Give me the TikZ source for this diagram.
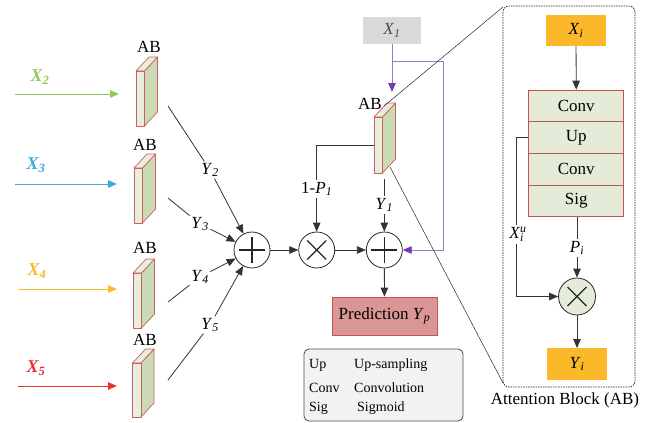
\documentclass[tikz,border=0pt]{standalone}
\usepackage{fontspec}
\setmainfont{Liberation Serif}
\usetikzlibrary{arrows.meta}
\definecolor{cgreen}{RGB}{146,200,90}
\definecolor{ccyan}{RGB}{60,170,215}
\definecolor{corange}{RGB}{250,185,40}
\definecolor{cred}{RGB}{235,50,50}
\definecolor{blkborder}{RGB}{205,95,95}
\definecolor{blkpale}{RGB}{232,238,222}
\definecolor{blkgreen}{RGB}{202,218,180}
\definecolor{predfill}{RGB}{217,150,148}
\definecolor{predline}{RGB}{205,80,80}
\definecolor{gold}{RGB}{251,184,41}
\definecolor{xgray}{RGB}{217,217,217}
\definecolor{purp}{RGB}{150,122,205}
\definecolor{purpdark}{RGB}{112,60,175}
\definecolor{stackfill}{RGB}{228,235,216}
\definecolor{legfill}{RGB}{242,242,242}
\tikzset{
  conn/.style={draw=black!80,line width=0.8pt},
  arr/.style={conn,-{Triangle[length=9pt,width=7.5pt]}},
  inarr/.style={line width=0.9pt,-{Triangle[length=9pt,width=7.5pt]}},
  zoomline/.style={draw=black!85,line width=0.5pt},
  lbl/.style={inner sep=1.5pt},
  blkfront/.style={draw=blkborder,fill=blkpale,line width=0.7pt,line join=round},
  blkside/.style={draw=blkborder,fill=blkgreen,line width=0.7pt,line join=round},
  plusnode/.style={circle,draw=black!85,line width=0.8pt,minimum size=36pt,inner sep=0pt,fill=white,
    path picture={\draw[line width=1.3pt]
      ([xshift=-13pt]path picture bounding box.center) -- ([xshift=13pt]path picture bounding box.center)
      ([yshift=-13pt]path picture bounding box.center) -- ([yshift=13pt]path picture bounding box.center);}},
  timesnode/.style={circle,draw=black!85,line width=0.8pt,minimum size=36pt,inner sep=0pt,fill=white,
    path picture={\draw[line width=1.3pt]
      ([shift={(-9.5pt,-9.5pt)}]path picture bounding box.center) -- ([shift={(9.5pt,9.5pt)}]path picture bounding box.center)
      ([shift={(-9.5pt,9.5pt)}]path picture bounding box.center) -- ([shift={(9.5pt,-9.5pt)}]path picture bounding box.center);}},
  stackbox/.style={draw=predline,fill=stackfill,line width=0.7pt,minimum width=95pt,minimum height=31.7pt,inner sep=0pt},
  goldbox/.style={fill=gold,minimum width=60pt,minimum height=31.5pt,inner sep=0pt},
}
\newcommand{\ABblk}[3]{%
  \begin{scope}[shift={(#1,#2)}]
    \filldraw[blkside] (8.5,0) -- (21.5,-14) -- (21.5,{#3-14}) -- (8.5,#3) -- cycle;
    \filldraw[blkfront] (0,0) -- (13,-14) -- (21.5,-14) -- (8.5,0) -- cycle;
    \filldraw[blkfront] (0,0) rectangle (8.5,#3);
  \end{scope}}
\newcommand{\itsub}[2]{\textit{#1}\textsubscript{\textit{#2}}}
\begin{document}
\begin{tikzpicture}[x=1pt,y=-1pt,font=\fontsize{17}{20}\selectfont]
\useasboundingbox (0,0) rectangle (667,423);

% ---------- left input arrows ----------
\coordinate (s2) at (15,94);  \coordinate (e2) at (119,94);
\coordinate (s3) at (15,184); \coordinate (e3) at (117,184);
\coordinate (s4) at (18,289); \coordinate (e4) at (117,289);
\coordinate (s5) at (18,386); \coordinate (e5) at (117,386);
\draw[inarr,cgreen] (s2) -- (e2);
\draw[inarr,ccyan] (s3) -- (e3);
\draw[inarr,corange] (s4) -- (e4);
\draw[inarr,cred] (s5) -- (e5);
\node[text=cgreen,font=\fontsize{18}{20}\selectfont\bfseries\itshape] (lx2) at (40,77) {X\textsubscript{2}};
\node[text=ccyan,font=\fontsize{18}{20}\selectfont\bfseries\itshape] (lx3) at (36,165) {X\textsubscript{3}};
\node[text=corange,font=\fontsize{18}{20}\selectfont\bfseries\itshape] (lx4) at (37,271) {X\textsubscript{4}};
\node[text=cred,font=\fontsize{18}{20}\selectfont\bfseries\itshape] (lx5) at (36,368) {X\textsubscript{5}};

% ---------- attention blocks ----------
\ABblk{136}{71}{55}
\ABblk{134}{168}{55}
\ABblk{133}{273}{55}
\ABblk{132.5}{363}{54}
\ABblk{374}{117}{56}
\node (ab1) at (149,47) {AB};
\node (ab2) at (145,145) {AB};
\node (ab3) at (145,248) {AB};
\node (ab4) at (145,340) {AB};
\node (ab0) at (370,104) {AB};

% ---------- operators ----------
\node[plusnode] (p1) at (252,250) {};
\node[timesnode] (t1) at (316.7,250) {};
\node[plusnode] (p2) at (384.3,250) {};

% ---------- Y labels and connectors ----------
\coordinate (o2) at (168,106);
\coordinate (o3) at (168,198);
\coordinate (o4) at (168,302);
\coordinate (o5) at (168,380);
\node[lbl] (y2) at (210,170) {\itsub{Y}{2}};
\node[lbl] (y3) at (200,224) {\itsub{Y}{3}};
\node[lbl] (y4) at (200,277) {\itsub{Y}{4}};
\node[lbl] (y5) at (210,325) {\itsub{Y}{5}};
\draw[conn] (o2) -- (y2); \draw[arr] (y2) -- (p1);
\draw[conn] (o3) -- (y3); \draw[arr] (y3) -- (p1);
\draw[conn] (o4) -- (y4); \draw[arr] (y4) -- (p1);
\draw[conn] (o5) -- (y5); \draw[arr] (y5) -- (p1);

\draw[arr] (p1) -- (t1);
\draw[arr] (t1) -- (p2);

% 1-P1
\coordinate (mleft) at (374,145);
\node[lbl] (onep) at (316.7,189) {1-\itsub{P}{1}};
\draw[conn] (mleft) -| (onep.north);
\draw[arr] (onep) -- (t1);

% Y1
\coordinate (mbot) at (384.3,179);
\node[lbl] (y1) at (384.3,205) {\itsub{Y}{1}};
\draw[conn] (mbot) -- (y1.north);
\draw[arr] (y1) -- (p2);

% prediction
\node[draw=predline,fill=predfill,line width=0.7pt,minimum width=105pt,minimum height=38pt,inner sep=0pt] (pred) at (384.5,316) {Prediction \itsub{Y}{p}};
\draw[arr] (p2) -- (pred);

% X1 and purple path
\node[fill=xgray,minimum width=58pt,minimum height=27pt,inner sep=0pt,text=black!70] (x1) at (392,30.5) {\itsub{X}{1}};
\coordinate (ptip) at (392,92);
\coordinate (pj) at (392,61);
\coordinate (pr) at (443,61);
\draw[line width=0.9pt,purp,-{Triangle[length=9pt,width=7.5pt,color=purpdark]}] (x1.south) -- (ptip);
\draw[line width=0.9pt,purp,-{Triangle[length=9pt,width=7.5pt,color=purpdark]}] (pj) -- (pr) |- (p2.east);

% legend
\node[draw=black!70,fill=legfill,rounded corners=5pt,line width=0.8pt,minimum width=159pt,minimum height=72pt,inner sep=0pt] (leg) at (383.5,385) {};
\begin{scope}[font=\fontsize{14}{16}\selectfont]
\node[anchor=west,inner sep=0pt] (lu) at (309,365) {Up};
\node[anchor=west,inner sep=0pt] (lc) at (309,388) {Conv};
\node[anchor=west,inner sep=0pt] (ls) at (309,408) {Sig};
\node[anchor=west,inner sep=0pt] (lu2) at (354,365) {Up-sampling};
\node[anchor=west,inner sep=0pt] (lc2) at (354,388) {Convolution};
\node[anchor=west,inner sep=0pt] (ls2) at (357,408) {Sigmoid};
\end{scope}

% ---------- attention block detail ----------
\draw[draw=black!85,line width=0.7pt,dash pattern=on 1.5pt off 1pt,rounded corners=6pt] (503,6) rectangle (635,387);
\coordinate (zs1) at (384,106); \coordinate (ze1) at (503,7);
\coordinate (zs2) at (390,167); \coordinate (ze2) at (503,383);
\draw[zoomline] (zs1) -- (ze1);
\draw[zoomline] (zs2) -- (ze2);
\node (abt) at (565,400) {Attention Block (AB)};

\node[goldbox] (xi) at (576,30.5) {\itsub{X}{i}};
\node[stackbox] (c1) at (576.3,105.85) {Conv};
\node[stackbox] (up) at (576.3,137.55) {Up};
\node[stackbox] (c2) at (576.3,169.25) {Conv};
\node[stackbox] (sg) at (576.3,200.95) {Sig};
\draw[arr] (xi) -- (c1);

\node[circle,draw=black!85,fill=stackfill,line width=0.8pt,minimum size=37pt,inner sep=0pt,
  path picture={\draw[line width=1.3pt]
      ([shift={(-9.5pt,-9.5pt)}]path picture bounding box.center) -- ([shift={(9.5pt,9.5pt)}]path picture bounding box.center)
      ([shift={(-9.5pt,9.5pt)}]path picture bounding box.center) -- ([shift={(9.5pt,-9.5pt)}]path picture bounding box.center);}] (t2) at (577,296.5) {};
\node[lbl] (pi) at (577,248) {\itsub{P}{i}};
\draw[conn] (sg.south -| pi) -- (pi);
\draw[arr] (pi) -- (t2);

\node[lbl] (xu) at (518,234) {\textit{X}\rlap{\textsubscript{\textit{i}}}\textsuperscript{\textit{u}}};
\coordinate (xuc) at (516,137.55);
\coordinate (xub) at (516,244);
\draw[conn] (up.west) -- (xuc) -- (xuc |- xu.north);
\draw[arr] (xub) |- (t2.west);

\node[goldbox] (yi) at (577,364) {\itsub{Y}{i}};
\draw[arr] (t2) -- (yi);
\end{tikzpicture}
\end{document}
